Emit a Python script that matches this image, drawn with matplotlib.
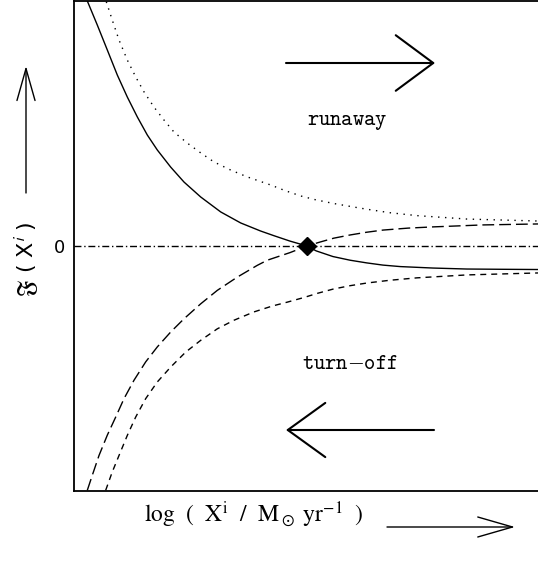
import matplotlib
matplotlib.use("Agg")
import matplotlib.pyplot as plt

# schematic curves, x in arbitrary log units, y = F(X^i)
solid_x = [0.287, 0.502, 0.718, 0.933, 1.149, 1.364, 1.580, 1.795, 2.084, 2.371, 2.731, 3.162,
           3.593, 4.024, 4.310, 4.655, 5.02, 5.22, 5.58, 5.95, 6.31, 6.66, 7.03, 7.74, 8.47, 9.18, 10.0]
solid_y = [1.0, 0.902, 0.800, 0.698, 0.608, 0.527, 0.453, 0.392, 0.322, 0.261, 0.200, 0.139,
           0.094, 0.061, 0.042, 0.020, 0.0, -0.020, -0.043, -0.058, -0.069, -0.078, -0.084, -0.090,
           -0.094, -0.095, -0.096]

dotted_x = [0.696, 0.825, 0.970, 1.149, 1.330, 1.509, 1.724, 1.940, 2.155, 2.442, 2.731, 3.017,
            3.377, 3.735, 4.239, 4.55, 4.892, 5.20, 5.582, 6.0, 6.315, 6.80, 7.39, 8.47, 10.0]
dotted_y = [0.997, 0.922, 0.841, 0.759, 0.690, 0.629, 0.567, 0.514, 0.465, 0.420, 0.380, 0.343,
            0.310, 0.282, 0.249, 0.226, 0.204, 0.189, 0.174, 0.160, 0.150, 0.136, 0.124, 0.110, 0.102]

longdash_x = [0.287, 0.394, 0.539, 0.718, 0.899, 1.078, 1.293, 1.545, 1.795, 2.084, 2.371, 2.731,
              3.089, 3.519, 3.950, 4.166, 4.655, 5.02, 5.30, 5.60, 5.95, 6.30, 6.66, 7.20, 7.74, 8.81, 10.0]
longdash_y = [-0.997, -0.936, -0.855, -0.772, -0.698, -0.623, -0.548, -0.473, -0.412, -0.351, -0.297, -0.236,
              -0.181, -0.127, -0.079, -0.058, -0.027, 0.0, 0.016, 0.032, 0.045, 0.056, 0.065, 0.073,
              0.078, 0.086, 0.090]

shortdash_x = [0.683, 0.825, 0.970, 1.149, 1.330, 1.545, 1.795, 2.084, 2.407, 2.731, 3.089, 3.448,
               3.879, 4.274, 4.600, 4.960, 5.25, 5.582, 5.95, 6.315, 6.80, 7.39, 8.47, 10.0]
shortdash_y = [-0.997, -0.922, -0.855, -0.773, -0.698, -0.623, -0.555, -0.494, -0.433, -0.385, -0.338, -0.303,
               -0.269, -0.245, -0.229, -0.210, -0.193, -0.176, -0.162, -0.151, -0.140, -0.130, -0.118, -0.110]

equilibrium_x = [5.02]
equilibrium_y = [0.0]

zero_ticks = [0]
zero_labels = ["0"]


def arrow(fig, start, end, lw, hl, hw):
    fig.add_artist(matplotlib.patches.FancyArrowPatch(
        start, end, transform=None,
        arrowstyle=f"->, head_length={hl}, head_width={hw}",
        mutation_scale=1, lw=lw, color="black", shrinkA=0, shrinkB=0))


def create_graph() -> None:
    fig = plt.figure(figsize=(5.38, 5.62), dpi=100)
    ax = fig.add_axes([74 / 538, 71 / 562, 464 / 538, 490 / 562])

    ax.axhline(0, color="black", lw=1.0, dashes=(5, 2, 1, 2))
    ax.plot(solid_x, solid_y, color="black", lw=1.0)
    ax.plot(dotted_x, dotted_y, color="black", lw=1.0, dashes=(1, 4))
    ax.plot(longdash_x, longdash_y, color="black", lw=1.0, dashes=(8.5, 3.6))
    ax.plot(shortdash_x, shortdash_y, color="black", lw=1.0, dashes=(4.3, 3.6))
    ax.plot(equilibrium_x, equilibrium_y, marker="D", color="black", ms=9, ls="none")

    ax.set_xlim(0, 10)
    ax.set_ylim(-1, 1)
    ax.set_xticks([])
    ax.set_yticks(zero_ticks)
    ax.set_yticklabels(zero_labels, fontsize=13)
    ax.tick_params(axis="y", length=0, pad=6.5)
    ax.spines["right"].set_visible(False)
    for s in ["left", "top", "bottom"]:
        ax.spines[s].set_linewidth(1.3)

    ax.text(0.588, 0.754, r"$\mathtt{runaway}$", transform=ax.transAxes,
            ha="center", va="center", fontsize=15.5, math_fontfamily="cm")
    ax.text(0.595, 0.262, r"$\mathtt{turn{-}off}$", transform=ax.transAxes,
            ha="center", va="center", fontsize=15.5, math_fontfamily="cm")

    fig.text(254 / 538, 47 / 562,
             r"$\mathrm{log}\ \ (\ \ \mathrm{X}^\mathrm{i}\ \ /\ \ \mathrm{M}_\odot\ \mathrm{yr}^{-1}\ \ )$",
             ha="center", va="center", fontsize=17, math_fontfamily="stix")
    fig.text(27 / 538, 303 / 562, r"$\mathfrak{F}$ ( X$^{\mathsf{i}}$ )",
             ha="center", va="center", rotation=90, fontsize=16, math_fontfamily="stix")

    # direction arrows (figure pixels)
    arrow(fig, (286, 499), (435, 499), 1.5, 27, 20)
    arrow(fig, (434, 132), (286, 132), 1.5, 27, 19.5)
    arrow(fig, (26, 369), (26, 496), 1.0, 23, 6.5)
    arrow(fig, (387, 35), (515, 35), 1.0, 25, 7.2)

    fig.savefig("out.png", dpi=100)


create_graph()
